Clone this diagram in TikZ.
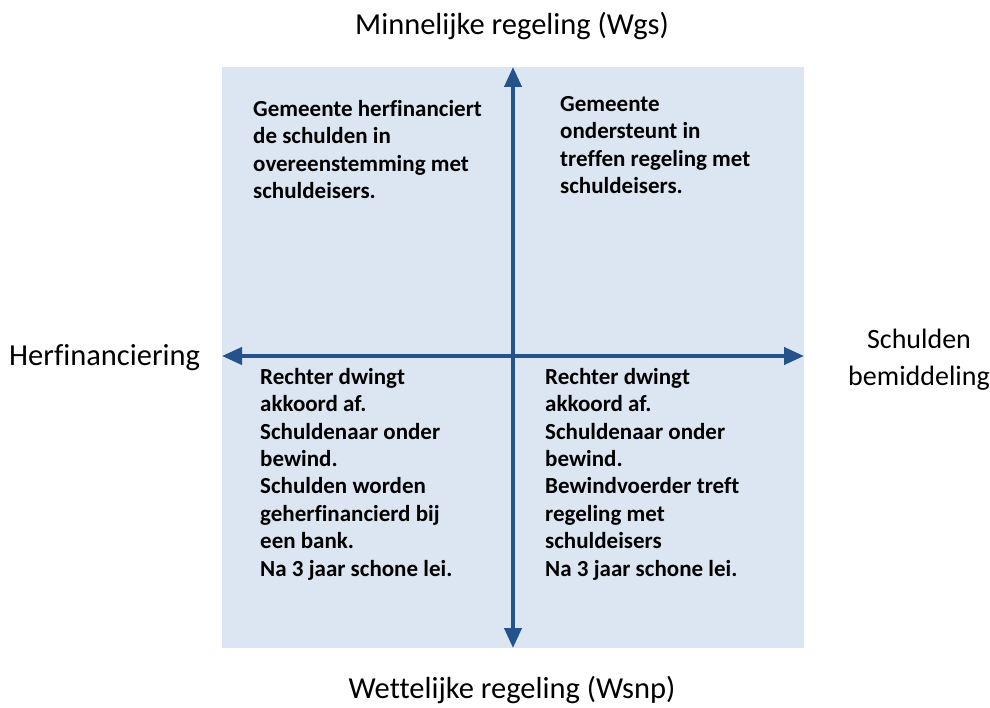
\documentclass[tikz,border=0pt]{standalone}
\usepackage{fontspec}
\setmainfont[Ligatures=NoCommon]{Carlito}
\usetikzlibrary{arrows.meta}
\definecolor{boxfill}{RGB}{220,230,242}
\definecolor{axis}{RGB}{36,82,138}
\tikzset{
  axisarrow/.style={draw=axis, line width=4pt, {Triangle[length=20pt,width=17pt]}-{Triangle[length=20pt,width=17pt]}},
  quad/.style={anchor=north west, inner sep=0pt, align=left, font=\fontsize{23}{27.4}\selectfont\bfseries},
  lab/.style={inner sep=0pt, font=\fontsize{30.5}{37}\selectfont, align=center}
}
\begin{document}
\begin{tikzpicture}[x=1pt,y=-1pt]
\useasboundingbox (0,0) rectangle (990,708);
\fill[boxfill] (222,67) rectangle (804,648);
\coordinate (top) at (513,67);
\coordinate (bot) at (513,648);
\coordinate (lft) at (222,356);
\coordinate (rgt) at (804,356);
\draw[axisarrow] (bot) -- (top);
\draw[axisarrow] (lft) -- (rgt);
\node[quad] (tl) at (253,100) {Gemeente herfinanciert\\de schulden in\\overeenstemming met\\schuldeisers.};
\node[quad] (tr) at (560,96) {Gemeente\\ondersteunt in\\treffen regeling met\\schuldeisers.};
\node[quad] (bl) at (260,368) {Rechter dwingt\\akkoord af.\\Schuldenaar onder\\bewind.\\Schulden worden\\geherfinancierd bij\\een bank.\\Na 3 jaar schone lei.};
\node[quad] (br) at (545,368) {Rechter dwingt\\akkoord af.\\Schuldenaar onder\\bewind.\\Bewindvoerder treft\\regeling met\\schuldeisers\\Na 3 jaar schone lei.};
\node[lab] (ltop) at (512,26) {Minnelijke regeling (Wgs)};
\node[lab] (lbot) at (512,690) {Wettelijke regeling (Wsnp)};
\node[lab, anchor=west] (lleft) at (9,358) {Herfinanciering};
\node[lab, font=\fontsize{28}{37}\selectfont] (lright) at (919,360) {Schulden\\bemiddeling};
\end{tikzpicture}
\end{document}
